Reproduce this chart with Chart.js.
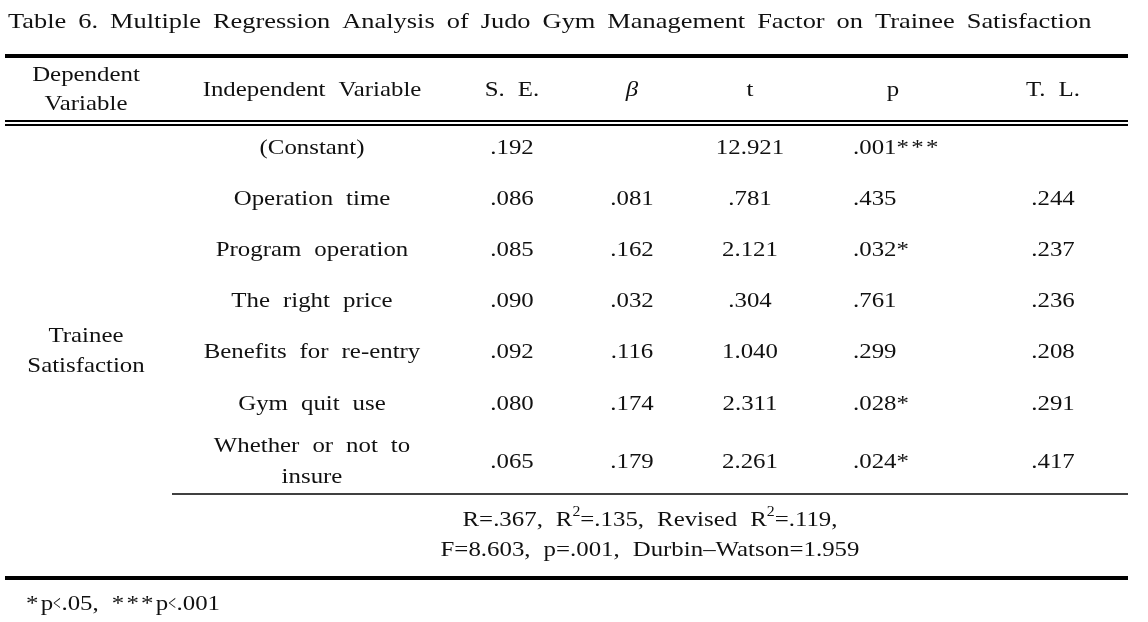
<!doctype html>
<html>
<head>
<meta charset="UTF-8">
<title>Table 6</title>
<script src="https://cdn.jsdelivr.net/npm/chart.js@4.4.1/dist/chart.umd.min.js"></script>
<style>
  html, body { margin: 0; padding: 0; background: #fff; }
  #holder { width: 1148px; height: 622px; }
</style>
</head>
<body>
<div id="holder"><canvas id="tbl"></canvas></div>
<script>
var title = 'Table 6. Multiple Regression Analysis of Judo Gym Management Factor on Trainee Satisfaction';
var columns = ['Dependent\nVariable', 'Independent Variable', 'S. E.', 'β', 't', 'p', 'T. L.'];
var dependent = 'Trainee\nSatisfaction';
var predictors = ['(Constant)', 'Operation time', 'Program operation', 'The right price',
  'Benefits for re-entry', 'Gym quit use', 'Whether or not to\ninsure'];
var seValues = ['.192', '.086', '.085', '.090', '.092', '.080', '.065'];
var betaValues = ['', '.081', '.162', '.032', '.116', '.174', '.179'];
var tValues = ['12.921', '.781', '2.121', '.304', '1.040', '2.311', '2.261'];
var pValues = ['.001', '.435', '.032', '.761', '.299', '.028', '.024'];
var pStars = ['***', '', '*', '', '', '*', '*'];
var tolValues = ['', '.244', '.237', '.236', '.208', '.291', '.417'];
var summary1 = [['R=.367, R', ''], ['2', 'sup'], ['=.135, Revised R', ''], ['2', 'sup'], ['=.119,', '']];
var summary2 = 'F=8.603, p=.001, Durbin\u2013Watson=1.959';
var footnote = [['*', 'star'], ['p', ''], ['<', 'lt'], ['.05, ', ''], ['***', 'star'], ['p', ''], ['<', 'lt'], ['.001', '']];

// layout (in scale units = px)
var colX = [86, 312, 512, 632, 750, 853, 1053];
var rowY = [148, 199, 250, 301, 352, 404, 462];
var FONT = '"Liberation Serif", "DejaVu Serif", serif';
var SIZE = 22;
var SX = 1.13;
var WS = 6;

var tablePlugin = {
  id: 'tablePlugin',
  afterDraw: function (chart) {
    var ctx = chart.ctx;
    var xs = chart.scales.x, ys = chart.scales.y;
    var px = function (v) { return xs.getPixelForValue(v); };
    var py = function (v) { return ys.getPixelForValue(v); };

    function hline(x0, x1, y, w) {
      ctx.save();
      ctx.strokeStyle = '#000';
      ctx.lineWidth = w;
      ctx.beginPath();
      ctx.moveTo(px(x0), py(y));
      ctx.lineTo(px(x1), py(y));
      ctx.stroke();
      ctx.restore();
    }

    function setFont(kind, o) {
      var size = kind === 'sup' ? 14 : SIZE;
      ctx.font = (o.italic ? 'italic ' : '') + size + 'px ' + FONT;
      ctx.wordSpacing = (o.ws != null ? o.ws : WS) + 'px';
      ctx.letterSpacing = kind === 'star' ? '2px' : (kind === 'lt' ? '1px' : '0px');
    }
    function partSx(kind, o) {
      if (kind === 'lt') return 0.62;
      return o.sx || SX;
    }

    function drawRun(parts, x, y, align, o) {
      o = o || {};
      var total = 0;
      parts.forEach(function (p) {
        setFont(p[1], o);
        total += ctx.measureText(p[0]).width * partSx(p[1], o);
      });
      var cx = px(x);
      if (align === 'center') cx -= total / 2;
      else if (align === 'right') cx -= total;
      ctx.save();
      ctx.fillStyle = '#111';
      ctx.textAlign = 'left';
      ctx.textBaseline = 'middle';
      parts.forEach(function (p) {
        setFont(p[1], o);
        var s = partSx(p[1], o);
        var w = ctx.measureText(p[0]).width * s;
        ctx.save();
        ctx.translate(cx, py(y) + (p[1] === 'sup' ? -8 : 0));
        ctx.scale(s, 1);
        ctx.fillText(p[0], 0, 0);
        ctx.restore();
        cx += w;
      });
      ctx.restore();
    }

    function text(str, x, y, align, opt) {
      opt = opt || {};
      var lines = str.split('\n');
      var lh = opt.lh || 30;
      var y0 = y - (lines.length - 1) * lh / 2;
      lines.forEach(function (ln, i) {
        drawRun([[ln, '']], x, y0 + i * lh, align, opt);
      });
    }

    // title
    text(title, 8, 22, 'left', {sx: 1.2, ws: 4.5});

    // rules
    hline(5, 1128, 56, 4);
    hline(5, 1128, 121, 2);
    hline(5, 1128, 125, 2);
    hline(172, 1128, 494, 1.5);
    hline(5, 1128, 578, 4);

    // header
    columns.forEach(function (c, i) {
      if (i === 5) text(c, 893, 90, 'center');
      else text(c, colX[i], 90, 'center', {italic: i === 3, lh: 29});
    });

    // body
    text(dependent, colX[0], 351, 'center', {lh: 30});
    predictors.forEach(function (name, r) {
      var y = rowY[r];
      text(name, colX[1], y, 'center', {lh: 31});
      text(seValues[r], colX[2], y, 'center');
      if (betaValues[r]) text(betaValues[r], colX[3], y, 'center');
      text(tValues[r], colX[4], y, 'center');
      drawRun([[pValues[r], ''], [pStars[r], 'star']], colX[5], y, 'left');
      if (tolValues[r]) text(tolValues[r], colX[6], y, 'center');
    });

    // model summary
    drawRun(summary1, 650, 520, 'center');
    text(summary2, 650, 550, 'center');

    // footnote
    drawRun(footnote, 26, 604, 'left');
  }
};

new Chart(document.getElementById('tbl').getContext('2d'), {
  type: 'scatter',
  data: { datasets: [{ data: [] }] },
  options: {
    responsive: true,
    maintainAspectRatio: false,
    animation: false,
    layout: { padding: 0 },
    plugins: { legend: { display: false }, tooltip: { enabled: false } },
    scales: {
      x: { type: 'linear', min: 0, max: 1148, display: false },
      y: { type: 'linear', min: 0, max: 622, reverse: true, display: false }
    }
  },
  plugins: [tablePlugin]
});
</script>
</body>
</html>
